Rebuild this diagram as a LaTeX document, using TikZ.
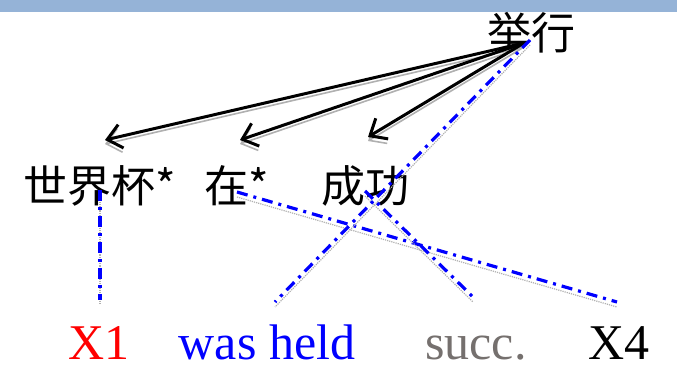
\documentclass[tikz,border=0pt]{standalone}
\usepackage{fontspec}
\setmainfont{Liberation Serif}
\newfontfamily\cjkfont{Noto Sans CJK SC}
\usetikzlibrary{calc, positioning, arrows.meta}
\definecolor{band}{HTML}{95B3D7}
\definecolor{linkblue}{HTML}{0000FF}
\definecolor{mute}{HTML}{75706E}
\definecolor{shade}{HTML}{B0B0B0}

\begin{document}
\begin{tikzpicture}[x=1pt, y=-1pt,
      src/.style={font=\cjkfont\fontsize{44}{44}\selectfont, inner sep=0pt,
                  anchor=base},
      tgt/.style={font=\fontsize{50}{50}\selectfont, inner sep=0pt,
                  anchor=base},
      dep/.style={-{Straight Barb[length=14pt,width=24pt]}, line width=3pt,
                  preaction={draw=shade, line width=1.6pt,
                             transform canvas={yshift=-4pt}}},
      wordlink/.style={draw=linkblue, line width=3.2pt,
                  dash pattern=on 11pt off 6pt on 3pt off 6pt,
                  preaction={draw=shade, line width=1.2pt, densely dotted,
                             transform canvas={yshift=-5pt}}}
  ]
    \useasboundingbox (0,0) rectangle (677,367);
    \fill[band] (0,0) rectangle (677,12);
    % source side
    \node[src] (jx)  at (531,49)  {举行};
    \node[src] (sjb) at (100,202) {世界杯*};
    \node[src] (zai) at (237,202) {在*};
    \node[src] (cg)  at (365,202) {成功};
    % target side
    \node[tgt, text=red]      (x1)   at (99,359)  {X1};
    \node[tgt, text=linkblue] (wh)   at (267,359) {was held};
    \node[tgt, text=mute]     (succ) at (476,359) {succ.};
    \node[tgt]                (x4)   at (619,359) {X4};
    \coordinate (root) at ([xshift=-7pt,yshift=6pt]jx.base);
    % dependencies
    \draw[dep] (root) -- ([xshift=5pt,yshift=62pt]sjb.base);
    \draw[dep] (root) -- ([xshift=3pt,yshift=62pt]zai.base);
    \draw[dep] (root) -- ([xshift=3pt,yshift=65pt]cg.base);
    % alignments
    \draw[wordlink] ([yshift=12pt]sjb.base) -- ([xshift=1pt,yshift=59pt]x1.base);
    \draw[wordlink] ([yshift=10pt]zai.base) -- ([xshift=-2pt,yshift=57pt]x4.base);
    \draw[wordlink] ([yshift=11pt]cg.base)  -- ([xshift=-3pt,yshift=62pt]succ.base);
    \draw[wordlink] ([xshift=-1pt,yshift=9pt]jx.base) -- ([xshift=8pt,yshift=57pt]wh.base);
\end{tikzpicture}
\end{document}
